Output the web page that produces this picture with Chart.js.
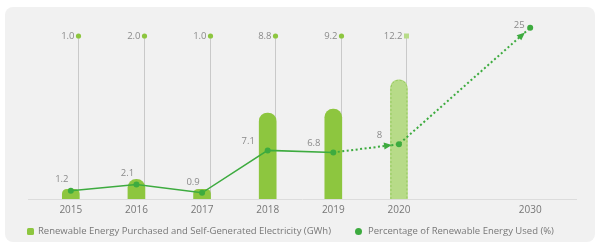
<!DOCTYPE html>
<html>
<head>
<meta charset="utf-8">
<script src="https://cdn.jsdelivr.net/npm/chart.js@4.4.1/dist/chart.umd.min.js"></script>
<style>
  html, body { margin: 0; padding: 0; background: #fff; }
  #wrap { position: relative; width: 597px; height: 244px; font-family: 'Open Sans', sans-serif; }
  #panel { position: absolute; left: 5px; top: 7px; width: 590px; height: 235px; background: #f1f1f1; border-radius: 8px; }
  #chart { position: absolute; left: 0; top: 0; }
  .legend { position: absolute; top: 224px; height: 14px; line-height: 14px; font-size: 9.5px; color: #777; white-space: nowrap; }
  .legend i { display: inline-block; width: 7px; height: 7px; margin-right: 4px; vertical-align: -0.5px; }
  #leg1 { left: 27px; }
  #leg1 i { background: #8dc63f; border-radius: 1.5px; }
  #leg2 { left: 355px; }
  #leg2 i { background: #3dab3f; border-radius: 50%; margin-right: 6px; }
</style>
</head>
<body>
<div id="wrap">
  <div id="panel"></div>
  <canvas id="chart" width="597" height="244"></canvas>
  <div class="legend" id="leg1"><i></i><span id="leg1text"></span></div>
  <div class="legend" id="leg2"><i></i><span id="leg2text"></span></div>
</div>
<script>
const years = ["2015", "2016", "2017", "2018", "2019", "2020", "", "2030"];
const electricity = [1.0, 2.0, 1.0, 8.8, 9.2, 12.2, null, null];
const electricityLabels = ["1.0", "2.0", "1.0", "8.8", "9.2", "12.2", "", ""];
const percentage = [1.2, 2.1, 0.9, 7.1, 6.8, 8, null, 25];
const percentageLabels = ["1.2", "2.1", "0.9", "7.1", "6.8", "8", "", "25"];
const seriesNames = [
  "Renewable Energy Purchased and Self-Generated Electricity (GWh)",
  "Percentage of Renewable Energy Used (%)"
];
const forecastFrom = 4; // segments after 2019 are targets

const barGreen = "#8dc63f";
const barLight = "#b7db88";
const lineGreen = "#3dab3f";
const textGray = "#8a8a8a";
const fontFamily = "'Open Sans', sans-serif";

document.getElementById("leg1text").textContent = seriesNames[0];
document.getElementById("leg2text").textContent = seriesNames[1];

function barRect(bar) {
  const w = bar.width;
  return { left: bar.x - w / 2, right: bar.x + w / 2, top: bar.y, bottom: bar.base };
}

const overlay = {
  id: "overlay",
  beforeDatasetsDraw(chart) {
    const ctx = chart.ctx;
    const area = chart.chartArea;
    const bars = chart.getDatasetMeta(0).data;
    const topY = area.top + 13;
    ctx.save();
    // baseline
    ctx.strokeStyle = "#dcdcdc";
    ctx.lineWidth = 1;
    ctx.beginPath();
    ctx.moveTo(area.left - 10, area.bottom + 0.5);
    ctx.lineTo(area.right + 14, area.bottom + 0.5);
    ctx.stroke();
    // leader lines
    bars.forEach((bar, i) => {
      if (electricity[i] == null) return;
      const x = Math.round(barRect(bar).right) - 0.5;
      ctx.strokeStyle = "#c9c9c9";
      ctx.beginPath();
      ctx.moveTo(x, topY);
      ctx.lineTo(x, area.bottom);
      ctx.stroke();
    });
    ctx.restore();
  },
  afterDatasetDraw(chart, args) {
    const ctx = chart.ctx;
    const area = chart.chartArea;
    const bars = chart.getDatasetMeta(0).data;
    if (args.index === 0) {
      const topY = area.top + 13;
      ctx.save();
      // dashed border on the target bar
      const b = bars[5];
      const r = barRect(b);
      const rad = (r.right - r.left) / 2;
      ctx.setLineDash([2, 2]);
      ctx.strokeStyle = "#93c85a";
      ctx.lineWidth = 1;
      ctx.beginPath();
      ctx.moveTo(r.left + 0.5, r.bottom);
      ctx.lineTo(r.left + 0.5, r.top + rad);
      ctx.arc(b.x, r.top + rad, rad - 0.5, Math.PI, 0);
      ctx.lineTo(r.right - 0.5, r.bottom);
      ctx.stroke();
      ctx.setLineDash([]);
      // top value markers
      ctx.font = "9.5px " + fontFamily;
      ctx.textAlign = "right";
      ctx.textBaseline = "middle";
      bars.forEach((bar, i) => {
        if (electricity[i] == null) return;
        const x = Math.round(barRect(bar).right) - 0.5;
        if (i === 5) {
          ctx.fillStyle = barLight;
          ctx.fillRect(x - 2.5, topY - 2.5, 5, 5);
        } else {
          ctx.fillStyle = barGreen;
          ctx.beginPath();
          ctx.arc(x, topY, 2.6, 0, Math.PI * 2);
          ctx.fill();
        }
        ctx.fillStyle = textGray;
        ctx.fillText(electricityLabels[i], x - 4, topY);
      });
      ctx.restore();
    } else {
      const pts = chart.getDatasetMeta(1).data;
      ctx.save();
      // arrow heads on target segments
      ctx.fillStyle = lineGreen;
      const drawArrow = (from, to) => {
        const a = Math.atan2(to.y - from.y, to.x - from.x);
        ctx.save();
        ctx.translate(to.x - Math.cos(a) * 7, to.y - Math.sin(a) * 7);
        ctx.rotate(a);
        ctx.beginPath();
        ctx.moveTo(0, 0);
        ctx.lineTo(-8, -3.5);
        ctx.lineTo(-8, 3.5);
        ctx.closePath();
        ctx.fill();
        ctx.restore();
      };
      drawArrow(pts[4], pts[5]);
      drawArrow(pts[5], pts[7]);
      // value labels
      ctx.font = "9.5px " + fontFamily;
      ctx.fillStyle = textGray;
      ctx.textAlign = "center";
      ctx.textBaseline = "middle";
      pts.forEach((p, i) => {
        if (percentage[i] == null) return;
        let x = p.x - 9, y = p.y - 11;
        const bar = bars[i];
        if (electricity[i] != null && bar.y < p.y - 8) {
          x = barRect(bar).left - 11;
          y = p.y - 9;
        }
        if (electricity[i] == null) { x = p.x - 11; y = p.y - 2; }
        ctx.fillText(percentageLabels[i], x, y);
      });
      ctx.restore();
    }
  }
};

new Chart(document.getElementById("chart"), {
  data: {
    labels: years,
    datasets: [
      {
        type: "bar",
        label: seriesNames[0],
        data: electricity,
        yAxisID: "y",
        backgroundColor: electricity.map((v, i) => (i === 5 ? barLight : barGreen)),
        barThickness: 17,
        borderRadius: { topLeft: 8.5, topRight: 8.5, bottomLeft: 0, bottomRight: 0 },
        borderSkipped: "bottom",
        order: 2
      },
      {
        type: "line",
        label: seriesNames[1],
        data: percentage,
        yAxisID: "y2",
        borderColor: lineGreen,
        backgroundColor: lineGreen,
        borderWidth: 1.5,
        pointRadius: 3,
        pointHoverRadius: 3,
        pointBorderWidth: 0,
        spanGaps: true,
        segment: {
          borderDash: (c) => (c.p0DataIndex >= forecastFrom ? [2, 2.5] : undefined),
          borderWidth: (c) => (c.p0DataIndex >= forecastFrom ? 2 : 1.5)
        },
        order: 1
      }
    ]
  },
  options: {
    responsive: false,
    animation: false,
    layout: { padding: { left: 38, right: 34, top: 23, bottom: 23 } },
    scales: {
      x: {
        grid: { display: false, drawTicks: false },
        border: { display: false },
        ticks: { color: "#777", font: { size: 10, family: fontFamily }, padding: 5 }
      },
      y: { display: false, min: 0, max: 18 },
      y2: { display: false, min: 0, max: 25.7 }
    },
    plugins: {
      tooltip: { enabled: false },
      legend: { display: false }
    }
  },
  plugins: [overlay]
});
</script>
</body>
</html>
